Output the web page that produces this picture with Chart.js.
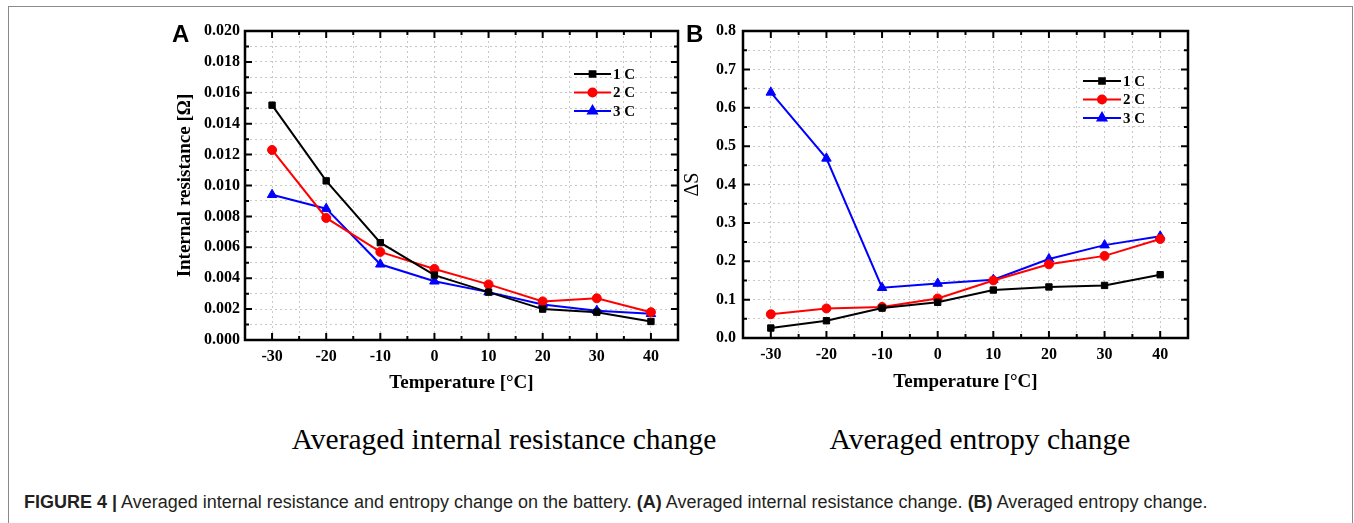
<!DOCTYPE html>
<html>
<head>
<meta charset="utf-8">
<script src="https://cdn.jsdelivr.net/npm/chart.js@4.4.0/dist/chart.umd.min.js"></script>
<style>
    body { margin: 0; background: #fff; width: 1354px; height: 523px; position: relative; overflow: hidden; }
    #frame { position: absolute; left: 8px; top: 6px; width: 1343px; height: 530px; border: 1px solid #8a8a8a; border-bottom: none; }
    canvas { position: absolute; }
    .letter { position: absolute; font: bold 24px "Liberation Sans", Arial, sans-serif; }
    .sub { position: absolute; font: 29.5px "Liberation Serif", "Times New Roman", serif; transform: translateX(-50%); white-space: nowrap; }
    #caption { position: absolute; left: 24px; top: 492px; font: 18px "Liberation Sans", Arial, sans-serif; white-space: nowrap; color: #231f20; }
</style>
</head>
<body>
<div id="frame"></div>
<canvas id="chartA" width="540" height="395" style="left:150px;top:10px"></canvas>
<canvas id="chartB" width="520" height="395" style="left:680px;top:10px"></canvas>
<div class="letter" style="left:172px;top:20px">A</div>
<div class="letter" style="left:686px;top:20px">B</div>
<div class="sub" style="left:504px;top:423px">Averaged internal resistance change</div>
<div class="sub" style="left:980px;top:423px">Averaged entropy change</div>
<div id="caption"><b>FIGURE 4 |</b> Averaged internal resistance and entropy change on the battery. <b>(A)</b> Averaged internal resistance change. <b>(B)</b> Averaged entropy change.</div>
<script>
// Temperatures (°C)
const temps = [-30, -20, -10, 0, 10, 20, 30, 40]
const seriesNames = ["1 C", "2 C", "3 C"]
// Internal resistance [Ω]
const resist1C = [0.0152, 0.0103, 0.0063, 0.0042, 0.0031, 0.0020, 0.0018, 0.0012]
const resist2C = [0.0123, 0.0079, 0.0057, 0.0046, 0.0036, 0.0025, 0.0027, 0.0018]
const resist3C = [0.0094, 0.0085, 0.0049, 0.0038, 0.0031, 0.0023, 0.0019, 0.0017]
// Entropy change ΔS
const entropy1C = [0.026, 0.045, 0.078, 0.093, 0.125, 0.133, 0.137, 0.165]
const entropy2C = [0.062, 0.077, 0.081, 0.103, 0.150, 0.192, 0.214, 0.258]
const entropy3C = [0.640, 0.468, 0.131, 0.142, 0.152, 0.206, 0.242, 0.265]

const colors = ["#000000", "#ff0000", "#0000ff"]
const markers = ["rect", "circle", "triangle"]
const markerSizes = [4.5, 4.5, 5.5]
const serif = "'Liberation Serif', 'Times New Roman', serif"

// inward tick marks, frame and legend drawn over the plot
const framePlugin = {
    id: "frameTicks",
    afterDraw(chart, args, opts) {
        const ctx = chart.ctx
        const a = chart.chartArea
        const xs = chart.scales.x
        const ys = chart.scales.y
        ctx.save()
        ctx.strokeStyle = "#000"
        ctx.lineWidth = 2
        xs.ticks.forEach(t => {
            const px = xs.getPixelForValue(t.value)
            if (px <= a.left + 1 || px >= a.right - 1) return
            const len = t.label !== "" ? 7 : 4
            ctx.beginPath()
            ctx.moveTo(px, a.bottom); ctx.lineTo(px, a.bottom - len)
            ctx.moveTo(px, a.top); ctx.lineTo(px, a.top + len)
            ctx.stroke()
        })
        ys.ticks.forEach(t => {
            const py = ys.getPixelForValue(t.value)
            if (py <= a.top + 1 || py >= a.bottom - 1) return
            const len = t.label !== "" ? 7 : 4
            ctx.beginPath()
            ctx.moveTo(a.left, py); ctx.lineTo(a.left + len, py)
            ctx.moveTo(a.right, py); ctx.lineTo(a.right - len, py)
            ctx.stroke()
        })
        ctx.lineWidth = 2.5
        ctx.strokeRect(a.left, a.top, a.right - a.left, a.bottom - a.top)
        // legend
        ctx.font = "bold 15px " + serif
        ctx.textBaseline = "middle"
        chart.data.datasets.forEach((ds, i) => {
            const y = a.top + opts.legendTop + i * 18.5
            const x0 = a.right - opts.legendRight
            ctx.strokeStyle = ds.borderColor
            ctx.lineWidth = 2
            ctx.beginPath()
            ctx.moveTo(x0, y); ctx.lineTo(x0 + opts.legendLine, y)
            ctx.stroke()
            ctx.fillStyle = ds.borderColor
            Chart.helpers.drawPoint(ctx, { pointStyle: ds.pointStyle, radius: ds.pointRadius - 0.5, rotation: 0, borderWidth: 1 }, x0 + opts.legendLine / 2, y)
            ctx.fillStyle = "#000"
            ctx.fillText(ds.label, x0 + opts.legendLine + 2, y + 1)
        })
        ctx.restore()
    }
}

function makeChart(id, values, yOpts, layout) {
    const datasets = values.map((vals, i) => ({
        label: seriesNames[i],
        data: temps.map((t, k) => ({ x: t, y: vals[k] })),
        borderColor: colors[i],
        backgroundColor: colors[i],
        borderWidth: 2,
        pointStyle: markers[i],
        pointRadius: markerSizes[i],
        pointBorderWidth: 1,
        tension: 0
    }))
    const grid = {
        color: "#c8c8c8",
        lineWidth: 1,
        drawTicks: false
    }
    return new Chart(document.getElementById(id), {
        type: "line",
        data: { datasets: datasets },
        plugins: [framePlugin],
        options: {
            responsive: false,
            animation: false,
            layout: { padding: { top: 21, right: layout.right, left: 0, bottom: 0 } },
            scales: {
                x: {
                    type: "linear",
                    min: -35,
                    max: 45,
                    border: { display: false, dash: [2, 3] },
                    grid: grid,
                    afterFit: s => { s.height = layout.xHeight },
                    ticks: {
                        stepSize: 5,
                        padding: 7,
                        color: "#000",
                        maxRotation: 0,
                        autoSkip: false,
                        font: { family: serif, size: 16, weight: "bold" },
                        callback: v => (v % 10 === 0 ? String(v) : "")
                    },
                    title: {
                        display: true,
                        text: "Temperature [°C]",
                        color: "#000",
                        font: { family: serif, size: 19, weight: "bold" },
                        padding: { top: 0, bottom: layout.xTitlePad }
                    }
                },
                y: {
                    min: 0,
                    max: yOpts.max,
                    border: { display: false, dash: [2, 3] },
                    grid: grid,
                    afterFit: s => { s.width = layout.yWidth },
                    ticks: {
                        stepSize: yOpts.step,
                        padding: layout.yTickPad,
                        color: "#000",
                        autoSkip: false,
                        font: { family: serif, size: 16, weight: "bold" },
                        callback: yOpts.label
                    },
                    title: {
                        display: true,
                        text: yOpts.title,
                        color: "#000",
                        font: { family: serif, size: yOpts.titleSize, weight: yOpts.titleWeight },
                        padding: { top: layout.yTitlePad, bottom: 0 }
                    }
                }
            },
            plugins: {
                legend: { display: false },
                tooltip: { enabled: false },
                frameTicks: { legendTop: layout.legendTop, legendRight: layout.legendRight, legendLine: layout.legendLine }
            }
        }
    })
}

makeChart("chartA", [resist1C, resist2C, resist3C], {
    max: 0.02,
    step: 0.001,
    title: "Internal resistance [Ω]",
    titleSize: 19,
    titleWeight: "bold",
    label: v => (Math.round(v * 1000) % 2 === 0 ? v.toFixed(3) : "")
}, { right: 12, xHeight: 65, yWidth: 95, yTickPad: 5, xTitlePad: 11, yTitlePad: 24, legendTop: 43, legendRight: 104, legendLine: 37 })

makeChart("chartB", [entropy1C, entropy2C, entropy3C], {
    max: 0.8,
    step: 0.05,
    title: "ΔS",
    titleSize: 20,
    titleWeight: "normal",
    label: v => (Math.round(v * 100) % 10 === 0 ? v.toFixed(1) : "")
}, { right: 12, xHeight: 67, yWidth: 63, yTickPad: 7, xTitlePad: 12, yTitlePad: 1, legendTop: 50, legendRight: 105, legendLine: 38 })
</script>
</body>
</html>
